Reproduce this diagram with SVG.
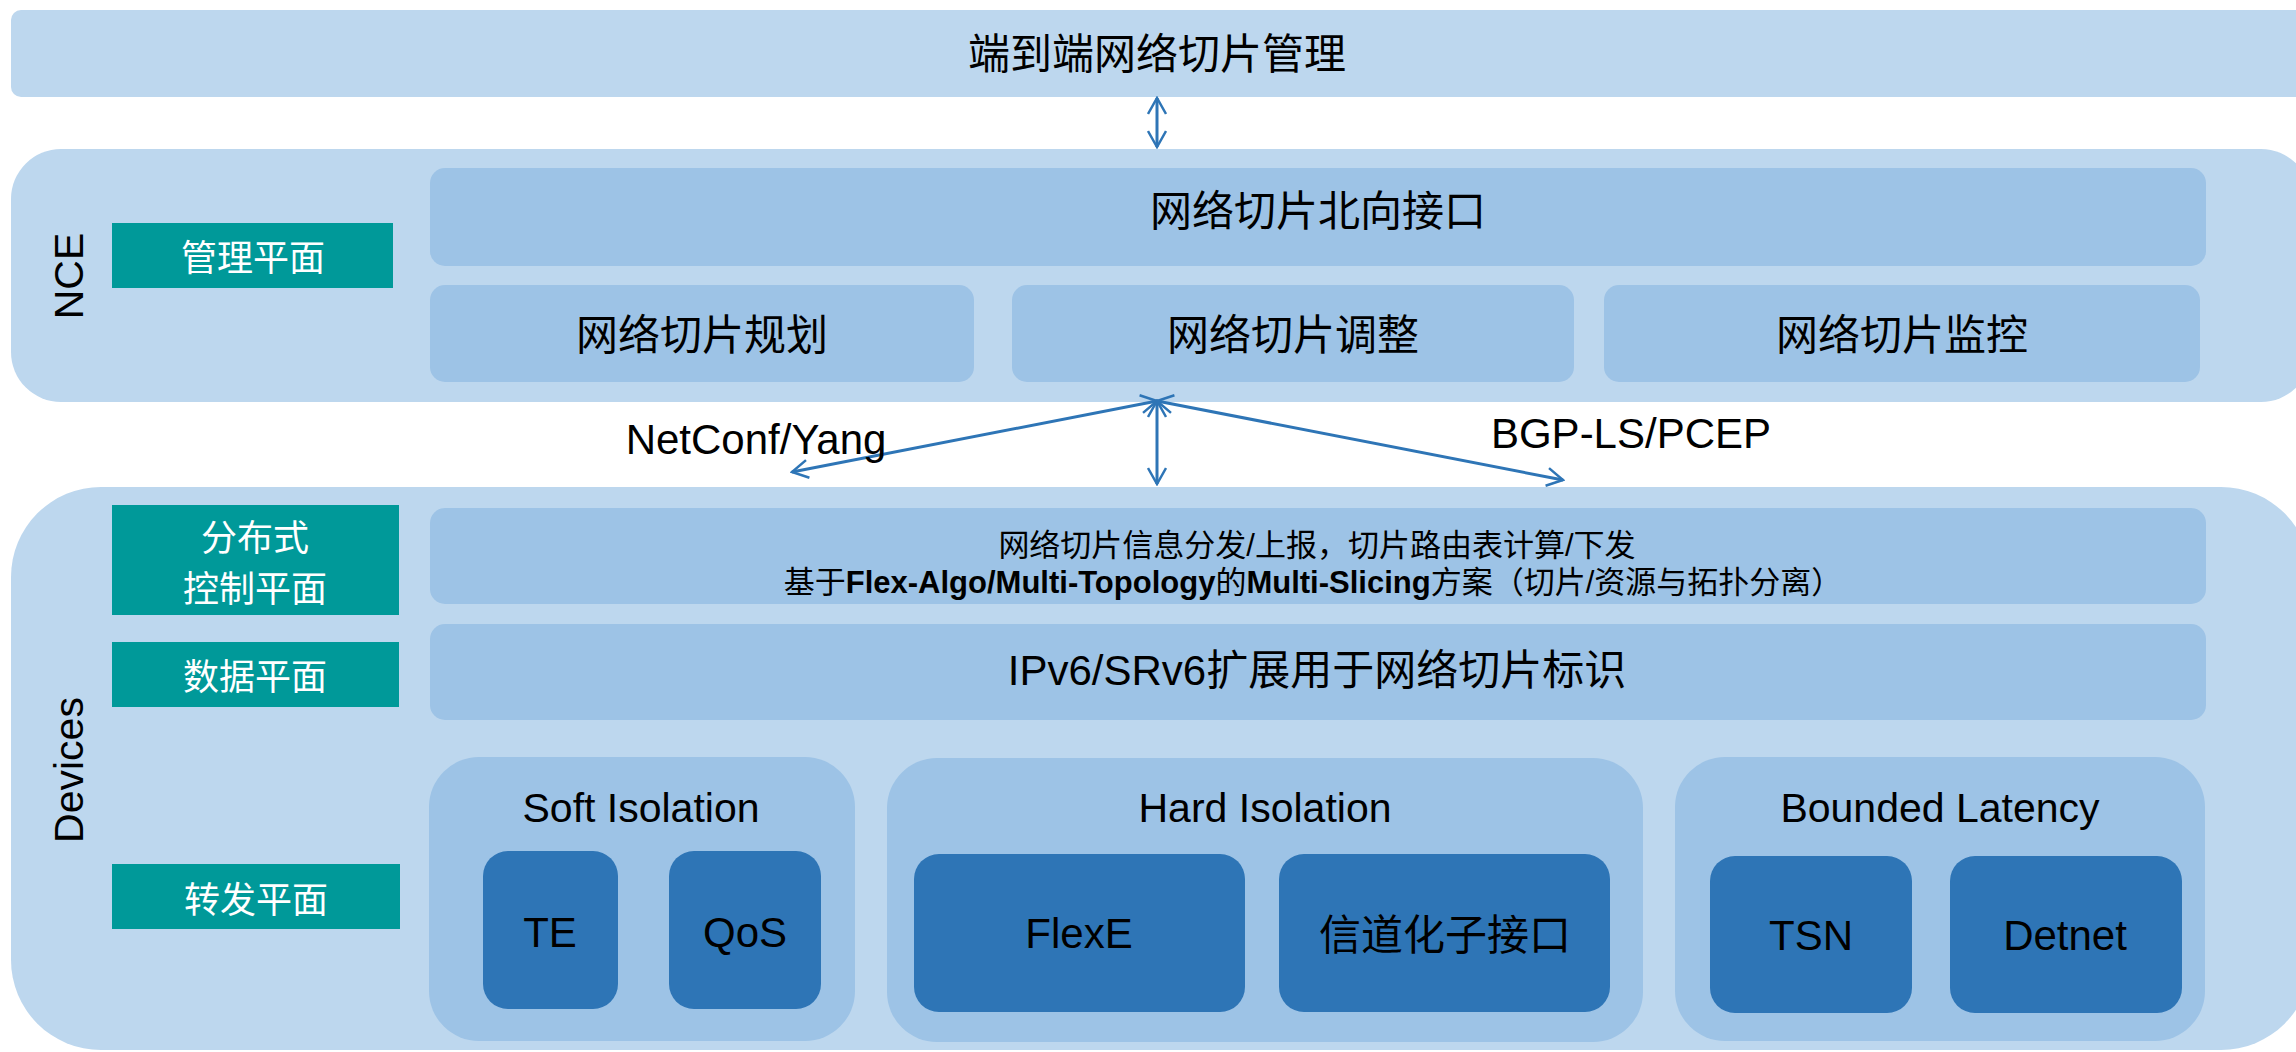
<svg xmlns="http://www.w3.org/2000/svg" width="2296" height="1052" viewBox="0 0 2296 1052">
<defs>
<style>
.panel{fill:#BDD7EE}
.inner{fill:#9DC3E6}
.dark{fill:#2E75B6}
.teal{fill:#009999}
.cn{font-family:"Liberation Sans","Noto Sans CJK SC",sans-serif;fill:#000}
.lbl{font-family:"Noto Sans CJK SC",sans-serif;fill:#fff;font-size:36px;text-anchor:middle;dominant-baseline:central}
.t42{font-size:42px;text-anchor:middle}
.mid{dominant-baseline:central}
.side{font-family:"Liberation Sans",sans-serif;font-size:41px;fill:#000;text-anchor:middle;dominant-baseline:central}
.b{font-weight:bold}
.conn{stroke:#2E75B6;stroke-width:3;fill:none;marker-start:url(#ah);marker-end:url(#ah)}
</style>
<marker id="ah" viewBox="0 0 20 20" refX="18" refY="10" markerWidth="20" markerHeight="20" markerUnits="userSpaceOnUse" orient="auto-start-reverse">
<path d="M2,1 L18,10 L2,19" fill="none" stroke="#2E75B6" stroke-width="2.5"/>
</marker>
</defs>
<rect width="2296" height="1052" fill="#fff"/>

<g id="e2e">
<rect class="panel" x="11" y="10" width="2300" height="87" rx="10"/>
<text class="cn t42 mid" x="1157" y="54">端到端网络切片管理</text>
</g>

<g id="nce">
<rect class="panel" x="11" y="149" width="2300" height="253" rx="50"/>
<text class="side" transform="translate(69,276) rotate(-90)">NCE</text>
</g>
<g id="mgmt-plane">
<rect class="teal" x="112" y="223" width="281" height="65"/>
<text class="lbl" x="253" y="255">管理平面</text>
</g>
<g id="nbi">
<rect class="inner" x="430" y="168" width="1776" height="98" rx="15"/>
<text class="cn t42 mid" x="1318" y="211">网络切片北向接口</text>
</g>
<g id="plan">
<rect class="inner" x="430" y="285" width="544" height="97" rx="15"/>
<text class="cn t42 mid" x="702" y="335">网络切片规划</text>
</g>
<g id="adjust">
<rect class="inner" x="1012" y="285" width="562" height="97" rx="15"/>
<text class="cn t42 mid" x="1293" y="335">网络切片调整</text>
</g>
<g id="monitor">
<rect class="inner" x="1604" y="285" width="596" height="97" rx="15"/>
<text class="cn t42 mid" x="1902" y="335">网络切片监控</text>
</g>

<g id="devices">
<rect class="panel" x="11" y="487" width="2300" height="563" rx="90"/>
<text class="side" transform="translate(69,770) rotate(-90)">Devices</text>
</g>
<g id="ctrl-plane">
<rect class="teal" x="112" y="505" width="287" height="110"/>
<text class="lbl" font-size="34"><tspan x="255" y="535">分布式</tspan><tspan x="255" y="586">控制平面</tspan></text>
</g>
<g id="ctrl">
<rect class="inner" x="430" y="508" width="1776" height="96" rx="15"/>
<text class="cn" font-size="31" text-anchor="middle"><tspan x="1317" y="556">网络切片信息分发/上报，切片路由表计算/下发</tspan><tspan x="1313" y="593">基于<tspan class="b">Flex-Algo/Multi-Topology</tspan>的<tspan class="b">Multi-Slicing</tspan>方案（切片/资源与拓扑分离）</tspan></text>
</g>
<g id="data-plane">
<rect class="teal" x="112" y="642" width="287" height="65"/>
<text class="lbl" x="255" y="674">数据平面</text>
</g>
<g id="data">
<rect class="inner" x="430" y="624" width="1776" height="96" rx="15"/>
<text class="cn t42 mid" x="1317" y="670">IPv6/SRv6扩展用于网络切片标识</text>
</g>
<g id="fwd-plane">
<rect class="teal" x="112" y="864" width="288" height="65"/>
<text class="lbl" x="256" y="897">转发平面</text>
</g>

<g id="soft">
<rect class="inner" x="429" y="757" width="426" height="284" rx="50"/>
<text class="cn" x="641" y="822" font-size="41" text-anchor="middle">Soft Isolation</text>
</g>
<g id="te">
<rect class="dark" x="483" y="851" width="135" height="158" rx="25"/>
<text class="cn t42" x="550" y="947">TE</text>
</g>
<g id="qos">
<rect class="dark" x="669" y="851" width="152" height="158" rx="25"/>
<text class="cn t42" x="745" y="947">QoS</text>
</g>

<g id="hard">
<rect class="inner" x="887" y="758" width="756" height="284" rx="50"/>
<text class="cn" x="1265" y="822" font-size="41" text-anchor="middle">Hard Isolation</text>
</g>
<g id="flexe">
<rect class="dark" x="914" y="854" width="331" height="158" rx="25"/>
<text class="cn t42" x="1079" y="948">FlexE</text>
</g>
<g id="subif">
<rect class="dark" x="1279" y="854" width="331" height="158" rx="25"/>
<text class="cn t42 mid" x="1445" y="935">信道化子接口</text>
</g>

<g id="bounded">
<rect class="inner" x="1675" y="757" width="530" height="284" rx="50"/>
<text class="cn" x="1940" y="822" font-size="41" text-anchor="middle">Bounded Latency</text>
</g>
<g id="tsn">
<rect class="dark" x="1710" y="856" width="202" height="157" rx="25"/>
<text class="cn t42" x="1811" y="950">TSN</text>
</g>
<g id="detnet">
<rect class="dark" x="1950" y="856" width="232" height="157" rx="25"/>
<text class="cn t42" x="2065" y="950">Detnet</text>
</g>

<g id="connectors">
<line class="conn" x1="1157" y1="98" x2="1157" y2="147"/>
<line class="conn" x1="1157" y1="401" x2="792" y2="472"/>
<line class="conn" x1="1157" y1="401" x2="1157" y2="484"/>
<line class="conn" x1="1157" y1="401" x2="1563" y2="480"/>
<text class="cn" x="756" y="454" font-size="42" text-anchor="middle">NetConf/Yang</text>
<text class="cn" x="1631" y="448" font-size="42" text-anchor="middle">BGP-LS/PCEP</text>
</g>
</svg>
